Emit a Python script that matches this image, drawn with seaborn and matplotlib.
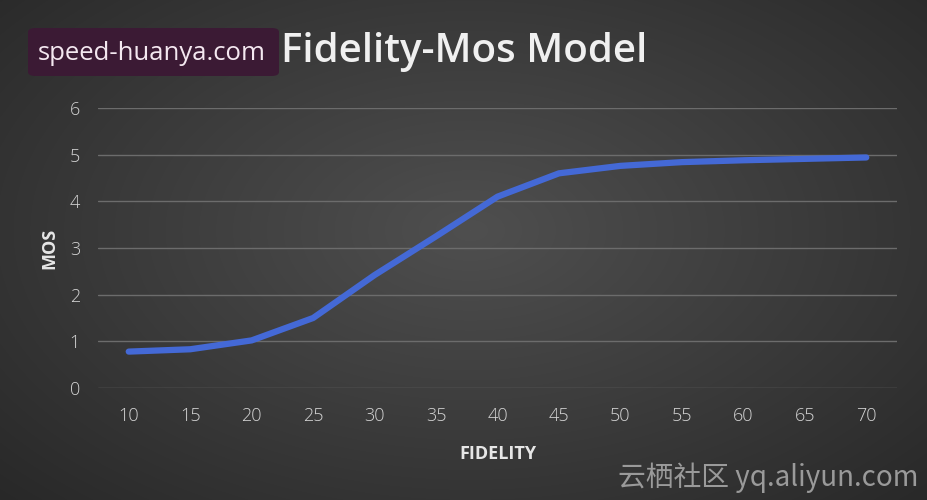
import numpy as np
import pandas as pd
import seaborn as sns
import matplotlib.pyplot as plt
from matplotlib.patches import FancyBboxPatch

sns.set_style("dark")
plt.rcParams['font.family'] = ['Open Sans', 'Noto Sans CJK SC', 'DejaVu Sans']

fidelity = [10, 15, 20, 25, 30, 35, 40, 45, 50, 55, 60, 65, 70]
mos = [0.78, 0.83, 1.02, 1.5, 2.42, 3.25, 4.1, 4.6, 4.76, 4.84, 4.88, 4.91, 4.94]
y_ticks = [0, 1, 2, 3, 4, 5, 6]

df = pd.DataFrame({"FIDELITY": fidelity, "MOS": mos})

fig = plt.figure(figsize=(9.27, 5.0), dpi=100)

# radial gradient background
bg = fig.add_axes([0, 0, 1, 1], zorder=0)
yy, xx = np.mgrid[0:500, 0:927]
r = np.sqrt(((xx - 470) / 560.0) ** 2 + ((yy - 230) / 330.0) ** 2)
shade = np.clip(0.31 - 0.13 * r, 0.15, 0.31)
bg.imshow(np.dstack([shade, shade, shade]), aspect='auto', extent=[0, 1, 0, 1])
bg.set_axis_off()

ax = fig.add_axes([98 / 927, 1 - 388 / 500, (897 - 98) / 927, (388 - 108) / 500], zorder=1)
ax.patch.set_alpha(0)
sns.lineplot(data=df, x="FIDELITY", y="MOS", ax=ax, color="#4469d6", linewidth=4.5)

ax.set_xlim(7.5, 72.5)
ax.set_ylim(0, 6)
ax.set_xticks(fidelity)
ax.set_yticks(y_ticks)
ax.grid(axis='y', color='#6c6c6c', linewidth=1.0)
ax.grid(axis='x', visible=False)
for s in ax.spines.values():
    s.set_visible(False)
ax.tick_params(axis='both', length=0, colors='#d4d4d4', labelsize=13)
ax.tick_params(axis='x', pad=14)
ax.tick_params(axis='y', pad=13)
for lbl in ax.get_xticklabels() + ax.get_yticklabels():
    lbl.set_fontweight('light')
ax.set_xlabel("FIDELITY", color='#e6e6e6', fontsize=13, fontweight='bold', labelpad=14)
ax.set_ylabel("MOS", color='#e6e6e6', fontsize=13, fontweight='bold', labelpad=8)

fig.text(464 / 927, 1 - 62 / 500, "Fidelity-Mos Model", ha='center', va='baseline',
         color='#f0f0f0', fontsize=29, fontweight='semibold')

# watermark boxes
box = FancyBboxPatch((28 / 927, 1 - 76 / 500), 251 / 927, 48 / 500,
                     boxstyle="round,pad=0,rounding_size=0.008", transform=fig.transFigure,
                     facecolor='#3b1a34', edgecolor='none', zorder=5)
fig.patches.append(box)
fig.text(152 / 927, 1 - 54 / 500, "speed-huanya.com", ha='center', va='center',
         color='#f4e8f0', fontsize=18.5, zorder=6)
fig.text(918 / 927, 1 - 478 / 500, "云栖社区 yq.aliyun.com", ha='right', va='center',
         color='#9a9a9a', fontsize=20, family=['Noto Sans CJK SC', 'DejaVu Sans'])

fig.savefig("out.png", dpi=100)
